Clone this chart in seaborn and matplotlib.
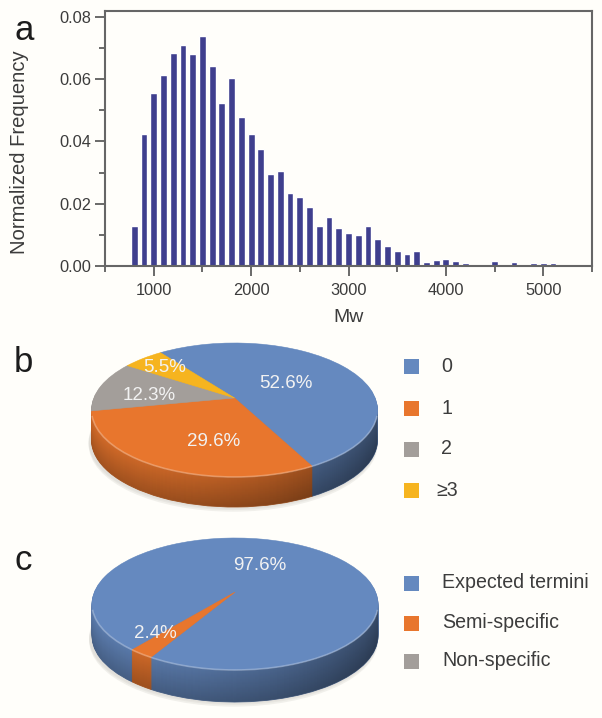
import numpy as np
import pandas as pd
import seaborn as sns
import matplotlib
matplotlib.use("Agg")
import matplotlib.pyplot as plt
from matplotlib.path import Path
from matplotlib.patches import Arc, Ellipse, Rectangle
from matplotlib.ticker import MultipleLocator
from matplotlib.transforms import Affine2D, Transform

# ---------- data ----------
mw = [800, 900, 1000, 1100, 1200, 1300, 1400, 1500, 1600, 1700, 1800, 1900, 2000, 2100,
      2200, 2300, 2400, 2500, 2600, 2700, 2800, 2900, 3000, 3100, 3200, 3300, 3400, 3500,
      3600, 3700, 3800, 3900, 4000, 4100, 4200, 4500, 4700, 4900, 5000, 5100]
freq = [.0130, .0424, .0557, .0613, .0683, .0711, .0681, .0739, .0641, .0525, .0603, .0479,
        .0423, .0375, .0295, .0304, .0236, .0221, .0189, .0129, .0157, .0121, .0106, .0098,
        .0130, .0086, .0063, .0049, .0037, .0049, .0014, .0019, .0023, .0015, .0010, .0017,
        .0012, .0009, .0009, .0009]
cleav_labels = ["0", "1", "2", "≥3"]
cleav_values = [52.6, 29.6, 12.3, 5.5]
term_labels = ["Expected termini", "Semi-specific", "Non-specific"]
term_values = [97.6, 2.4, 0.0]

BLUE, ORANGE, GRAY, YELLOW = "#6589bf", "#e8762d", "#a39e9a", "#f6b41f"
BG = "#fffefa"
TXT = "#3c3c3c"
W, H = 602, 718

sns.set_style("ticks")
plt.rcParams["font.family"] = ["Liberation Sans", "DejaVu Sans"]
fig = plt.figure(figsize=(W / 100, H / 100), dpi=100, facecolor=BG)


def px_axes(left, top, right, bottom):
    return fig.add_axes([left / W, 1 - bottom / H, (right - left) / W, (bottom - top) / H])


# ---------- panel a ----------
ax = px_axes(105, 11, 592, 266)
ax.set_facecolor(BG)
sns.barplot(data=pd.DataFrame({"Mw": mw, "f": freq}), x="Mw", y="f", native_scale=True,
            color="#3f3f8e", saturation=1, width=0.7, ax=ax)
ax.set_xlim(500, 5500)
ax.set_ylim(0, 0.0819)
ax.xaxis.set_major_locator(MultipleLocator(1000))
ax.xaxis.set_minor_locator(MultipleLocator(500))
ax.yaxis.set_major_locator(MultipleLocator(0.02))
ax.yaxis.set_minor_locator(MultipleLocator(0.01))
ax.set_yticklabels([f"{t:.2f}" for t in ax.get_yticks()])
ax.tick_params(axis="x", which="major", length=7, width=1.2, color="#505050", labelsize=11.8,
               labelcolor=TXT, pad=5)
ax.tick_params(axis="y", which="major", length=7, width=1.2, color="#505050", labelsize=11.8,
               labelcolor=TXT, pad=3)
ax.tick_params(which="minor", length=4, width=1.2, color="#505050")
for s in ax.spines.values():
    s.set_color("#666666")
    s.set_linewidth(1.5)
ax.set_xlabel("Mw", fontsize=14, color=TXT, labelpad=8)
ax.set_ylabel("Normalized Frequency", fontsize=14.6, color=TXT)
ax.yaxis.set_label_coords(-0.156, 0.447)


# ---------- panels b, c ----------
class Boost(Transform):
    """Perspective of a disc seen at an angle: keeps the rim, moves the centre up."""
    input_dims = output_dims = 2
    has_inverse = False

    def __init__(self, t):
        super().__init__()
        self.t = t

    def transform_non_affine(self, values):
        u, v = np.asarray(values).T
        d = 1 + self.t * v
        return np.column_stack([u * np.sqrt(1 - self.t ** 2) / d, (v + self.t) / d])


def shade(color, k):
    c = np.array(matplotlib.colors.to_rgb(color))
    return tuple(c * k)


def pie3d(values, colors, startangle, cx, cy, a, b, depth_px, label_px):
    ext = 1.25
    low = 1.9
    pa = px_axes(cx - ext * a, cy - ext * b, cx + ext * a, cy + low * b)
    depth = depth_px / b
    boost = Boost(0.18)
    # soft shadow
    for g in (0.07, 0.045, 0.025):
        pa.add_patch(Ellipse((-0.01, -depth - g), 2.02, 2, color="#d8d6d0", alpha=0.35, lw=0, zorder=0))
    # side wall: stacked pies
    n = int(depth_px)
    for i in range(n, 0, -1):
        f = i / n
        k = 0.90 - 0.20 * f
        wedges, _ = pa.pie(values, colors=[shade(c, k) for c in colors], startangle=startangle,
                           counterclock=False, radius=1,
                           wedgeprops=dict(lw=0.6, zorder=1))
        for w, val, col in zip(wedges, values, colors):
            w.set_transform(boost + Affine2D().translate(0, -depth * f) + pa.transData)
            w.set_edgecolor(shade(col, k))
            w.set_visible(val > 0)
            w.set_zorder(1)
    # horizontal light falloff on the wall
    th = np.linspace(np.pi, 2 * np.pi, 120)
    rim = np.column_stack([np.r_[np.cos(th), np.cos(th[::-1])],
                           np.r_[np.sin(th) - depth, np.sin(th[::-1])]])
    grad = np.zeros((2, 256, 4))
    grad[..., 3] = np.linspace(0.0, 0.55, 256) ** 1.6
    im = pa.imshow(grad, extent=(-1, 1, -1 - depth, 1), aspect="auto", zorder=2,
                   interpolation="bilinear")
    im.set_clip_path(Path(rim, closed=False), pa.transData)
    # top face
    wedges, _, autotexts = pa.pie(values, colors=colors, startangle=startangle, counterclock=False,
                                  radius=1, autopct=lambda p: f"{p:.1f}%" if p > 0 else "",
                                  wedgeprops=dict(lw=0.4),
                                  textprops=dict(color="#f2f2f2", fontsize=13.5))
    for w, val, col in zip(wedges, values, colors):
        w.set_transform(boost + pa.transData)
        w.set_edgecolor(col)
        w.set_visible(val > 0)
        w.set_zorder(3)
    pa.add_patch(Arc((0, 0), 2, 2, theta1=185, theta2=355, color="white", alpha=0.28, lw=1.2, zorder=4))
    shown = [t for t in autotexts if t.get_text()]
    for t, (px, py) in zip(shown, label_px):
        t.set_position(((px - cx) / a, (cy - py) / b))
        t.set_zorder(5)
    pa.set_aspect("auto")
    pa.set_xlim(-ext, ext)
    pa.set_ylim(-low, ext)
    pa.patch.set_visible(False)
    pa.set_axis_off()


pie3d(cleav_values, [BLUE, ORANGE, GRAY, YELLOW], 127, 234.5, 410, 143, 67, 30,
      [(286, 384), (214, 441), (149, 395), (165, 368)])
pie3d(term_values, [BLUE, ORANGE, GRAY], 231, 235, 604, 143, 66, 32,
      [(260, 566), (155, 634)])

# ---------- overlay: panel letters and legends ----------
ov = fig.add_axes([0, 0, 1, 1], facecolor="none")
ov.set_xlim(0, W)
ov.set_ylim(H, 0)
ov.set_axis_off()
for s, (x, y) in zip("abc", [(24, 31), (23, 363), (23, 560)]):
    ov.text(x, y, s, fontsize=25, color="#1c1c1c", ha="center", va="center")

for lab, col, y in zip(cleav_labels, [BLUE, ORANGE, GRAY, YELLOW], [366, 408, 449, 490]):
    ov.add_patch(Rectangle((404, y - 7.5), 15, 15, color=col, lw=0))
    ov.text(447, y, lab, fontsize=14.1, color=TXT, ha="center", va="center")
for lab, col, y in zip(term_labels, [BLUE, ORANGE, GRAY], [583, 623, 661]):
    ov.add_patch(Rectangle((404, y - 7.5), 15, 15, color=col, lw=0))
    ov.text(442, y, lab, fontsize=14.1, color=TXT, ha="left", va="center")

fig.savefig("out.png", dpi=100, facecolor=BG)
